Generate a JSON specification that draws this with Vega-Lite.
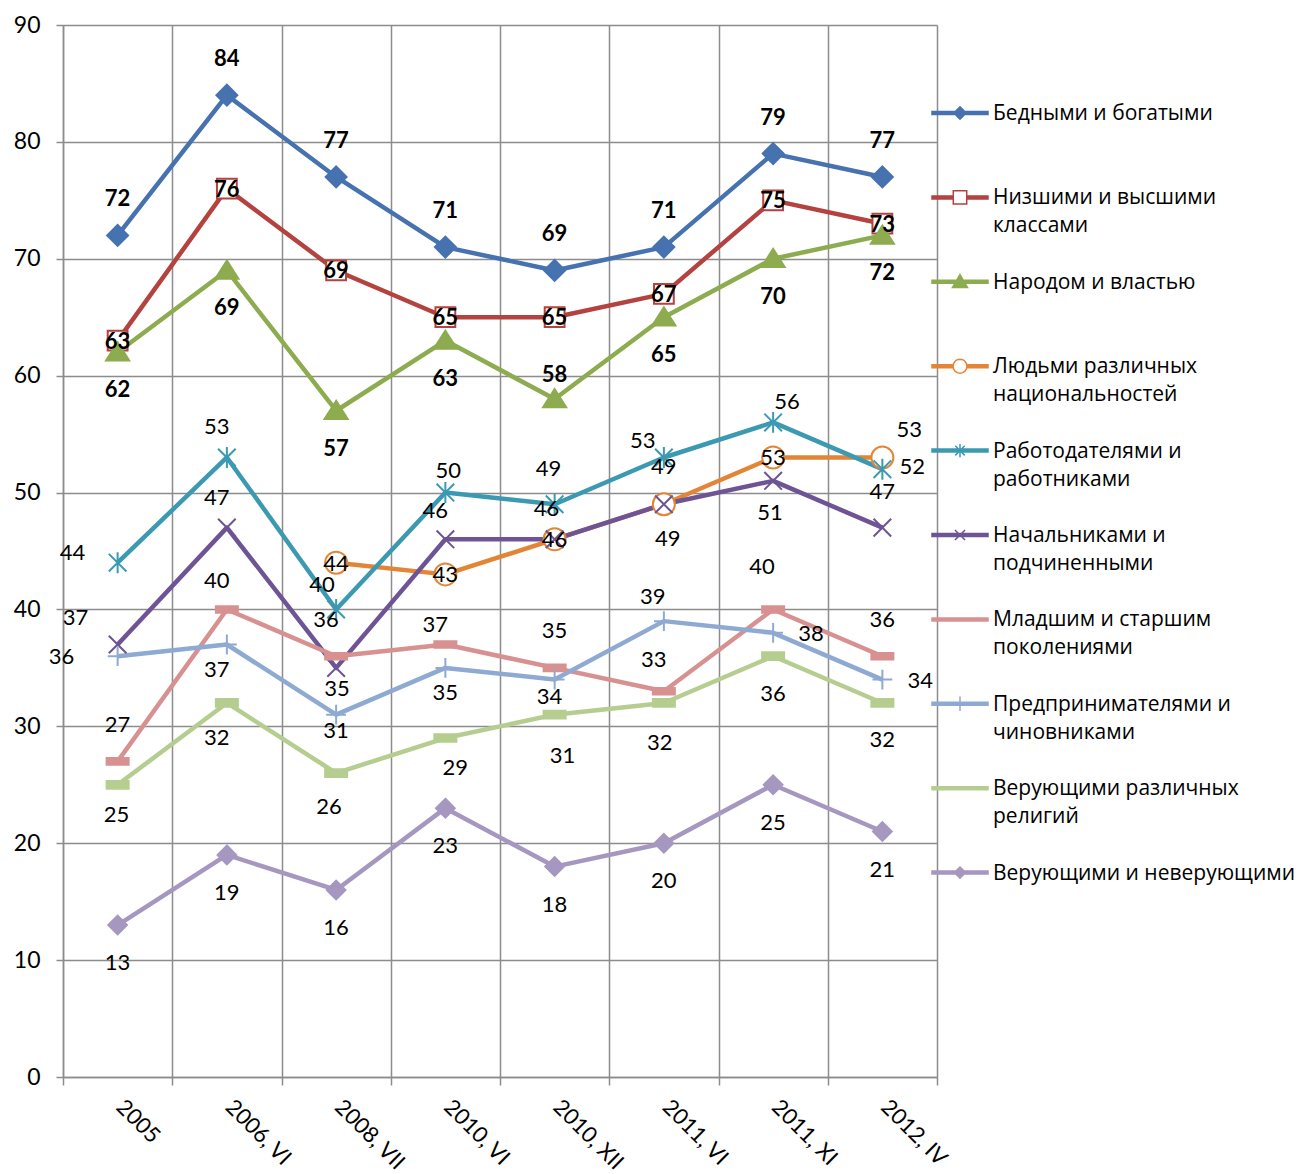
{
  "$schema": "https://vega.github.io/schema/vega-lite/v6.json",
  "width": 874,
  "height": 1052,
  "autosize": {"type": "none"},
  "padding": {"left": 63, "top": 25, "right": 363, "bottom": 97},
  "background": "white",
  "config": {"view": {"stroke": null}, "font": "Lato"},
  "data": {"values": [
    {"series": "Бедными и богатыми", "period": "2005", "value": 72},
    {"series": "Бедными и богатыми", "period": "2006, VI", "value": 84},
    {"series": "Бедными и богатыми", "period": "2008, VII", "value": 77},
    {"series": "Бедными и богатыми", "period": "2010, VI", "value": 71},
    {"series": "Бедными и богатыми", "period": "2010, XII", "value": 69},
    {"series": "Бедными и богатыми", "period": "2011, VI", "value": 71},
    {"series": "Бедными и богатыми", "period": "2011, XI", "value": 79},
    {"series": "Бедными и богатыми", "period": "2012, IV", "value": 77},
    {"series": "Низшими и высшими классами", "period": "2005", "value": 63},
    {"series": "Низшими и высшими классами", "period": "2006, VI", "value": 76},
    {"series": "Низшими и высшими классами", "period": "2008, VII", "value": 69},
    {"series": "Низшими и высшими классами", "period": "2010, VI", "value": 65},
    {"series": "Низшими и высшими классами", "period": "2010, XII", "value": 65},
    {"series": "Низшими и высшими классами", "period": "2011, VI", "value": 67},
    {"series": "Низшими и высшими классами", "period": "2011, XI", "value": 75},
    {"series": "Низшими и высшими классами", "period": "2012, IV", "value": 73},
    {"series": "Народом и властью", "period": "2005", "value": 62},
    {"series": "Народом и властью", "period": "2006, VI", "value": 69},
    {"series": "Народом и властью", "period": "2008, VII", "value": 57},
    {"series": "Народом и властью", "period": "2010, VI", "value": 63},
    {"series": "Народом и властью", "period": "2010, XII", "value": 58},
    {"series": "Народом и властью", "period": "2011, VI", "value": 65},
    {"series": "Народом и властью", "period": "2011, XI", "value": 70},
    {"series": "Народом и властью", "period": "2012, IV", "value": 72},
    {"series": "Людьми различных национальностей", "period": "2008, VII", "value": 44},
    {"series": "Людьми различных национальностей", "period": "2010, VI", "value": 43},
    {"series": "Людьми различных национальностей", "period": "2010, XII", "value": 46},
    {"series": "Людьми различных национальностей", "period": "2011, VI", "value": 49},
    {"series": "Людьми различных национальностей", "period": "2011, XI", "value": 53},
    {"series": "Людьми различных национальностей", "period": "2012, IV", "value": 53},
    {"series": "Работодателями и работниками", "period": "2005", "value": 44},
    {"series": "Работодателями и работниками", "period": "2006, VI", "value": 53},
    {"series": "Работодателями и работниками", "period": "2008, VII", "value": 40},
    {"series": "Работодателями и работниками", "period": "2010, VI", "value": 50},
    {"series": "Работодателями и работниками", "period": "2010, XII", "value": 49},
    {"series": "Работодателями и работниками", "period": "2011, VI", "value": 53},
    {"series": "Работодателями и работниками", "period": "2011, XI", "value": 56},
    {"series": "Работодателями и работниками", "period": "2012, IV", "value": 52},
    {"series": "Начальниками и подчиненными", "period": "2005", "value": 37},
    {"series": "Начальниками и подчиненными", "period": "2006, VI", "value": 47},
    {"series": "Начальниками и подчиненными", "period": "2008, VII", "value": 35},
    {"series": "Начальниками и подчиненными", "period": "2010, VI", "value": 46},
    {"series": "Начальниками и подчиненными", "period": "2010, XII", "value": 46},
    {"series": "Начальниками и подчиненными", "period": "2011, VI", "value": 49},
    {"series": "Начальниками и подчиненными", "period": "2011, XI", "value": 51},
    {"series": "Начальниками и подчиненными", "period": "2012, IV", "value": 47},
    {"series": "Младшим и старшим поколениями", "period": "2005", "value": 27},
    {"series": "Младшим и старшим поколениями", "period": "2006, VI", "value": 40},
    {"series": "Младшим и старшим поколениями", "period": "2008, VII", "value": 36},
    {"series": "Младшим и старшим поколениями", "period": "2010, VI", "value": 37},
    {"series": "Младшим и старшим поколениями", "period": "2010, XII", "value": 35},
    {"series": "Младшим и старшим поколениями", "period": "2011, VI", "value": 33},
    {"series": "Младшим и старшим поколениями", "period": "2011, XI", "value": 40},
    {"series": "Младшим и старшим поколениями", "period": "2012, IV", "value": 36},
    {"series": "Предпринимателями и чиновниками", "period": "2005", "value": 36},
    {"series": "Предпринимателями и чиновниками", "period": "2006, VI", "value": 37},
    {"series": "Предпринимателями и чиновниками", "period": "2008, VII", "value": 31},
    {"series": "Предпринимателями и чиновниками", "period": "2010, VI", "value": 35},
    {"series": "Предпринимателями и чиновниками", "period": "2010, XII", "value": 34},
    {"series": "Предпринимателями и чиновниками", "period": "2011, VI", "value": 39},
    {"series": "Предпринимателями и чиновниками", "period": "2011, XI", "value": 38},
    {"series": "Предпринимателями и чиновниками", "period": "2012, IV", "value": 34},
    {"series": "Верующими различных религий", "period": "2005", "value": 25},
    {"series": "Верующими различных религий", "period": "2006, VI", "value": 32},
    {"series": "Верующими различных религий", "period": "2008, VII", "value": 26},
    {"series": "Верующими различных религий", "period": "2010, VI", "value": 29},
    {"series": "Верующими различных религий", "period": "2010, XII", "value": 31},
    {"series": "Верующими различных религий", "period": "2011, VI", "value": 32},
    {"series": "Верующими различных религий", "period": "2011, XI", "value": 36},
    {"series": "Верующими различных религий", "period": "2012, IV", "value": 32},
    {"series": "Верующими и неверующими", "period": "2005", "value": 13},
    {"series": "Верующими и неверующими", "period": "2006, VI", "value": 19},
    {"series": "Верующими и неверующими", "period": "2008, VII", "value": 16},
    {"series": "Верующими и неверующими", "period": "2010, VI", "value": 23},
    {"series": "Верующими и неверующими", "period": "2010, XII", "value": 18},
    {"series": "Верующими и неверующими", "period": "2011, VI", "value": 20},
    {"series": "Верующими и неверующими", "period": "2011, XI", "value": 25},
    {"series": "Верующими и неверующими", "period": "2012, IV", "value": 21}
  ]},
  "encoding": {
    "x": {
      "field": "period", "type": "nominal",
      "scale": {"type": "band", "domain": ["2005", "2006, VI", "2008, VII", "2010, VI", "2010, XII", "2011, VI", "2011, XI", "2012, IV"], "paddingInner": 0, "paddingOuter": 0},
      "axis": {
        "title": null, "tickBand": "extent", "grid": true,
        "gridColor": "#8c8c8c", "gridWidth": 1.5,
        "domainColor": "#8c8c8c", "domainWidth": 1.5,
        "tickColor": "#8c8c8c", "tickWidth": 1.5, "tickSize": 8,
        "labelAngle": 45, "labelAlign": "left", "labelBaseline": "top", "labelPadding": 11, "labelOffset": 9,
        "labelFont": "Lato", "labelFontSize": 22, "labelColor": "#000", "labelOverlap": false, "labelLimit": 300
      }
    },
    "y": {
      "field": "value", "type": "quantitative",
      "scale": {"domain": [0, 90], "nice": false, "zero": true},
      "axis": {
        "title": null, "values": [0, 10, 20, 30, 40, 50, 60, 70, 80, 90], "grid": true,
        "gridColor": "#8c8c8c", "gridWidth": 1.5,
        "domainColor": "#8c8c8c", "domainWidth": 1.5,
        "tickColor": "#8c8c8c", "tickWidth": 1.5, "tickSize": 7,
        "labelPadding": 16, "labelFont": "Lato", "labelFontSize": 23, "labelColor": "#000"
      }
    }
  },
  "layer": [
    {
      "mark": {"type": "line", "strokeWidth": 4.5, "strokeJoin": "round"},
      "encoding": {
        "color": {
          "field": "series", "type": "nominal",
          "scale": {
            "domain": ["Бедными и богатыми", "Низшими и высшими классами", "Народом и властью", "Людьми различных национальностей", "Работодателями и работниками", "Начальниками и подчиненными", "Младшим и старшим поколениями", "Предпринимателями и чиновниками", "Верующими различных религий", "Верующими и неверующими"],
            "range": ["#4672B0", "#B4423F", "#8DAB4F", "#E38536", "#3B9AB2", "#6E5495", "#D89191", "#8EAAD3", "#B5CE8F", "#A697C0"]
          },
          "legend": {
            "orient": "none", "legendX": 868, "legendY": 59, "title": null, "padding": 0,
            "symbolType": "stroke", "symbolSize": 3136, "symbolStrokeWidth": 1.5,
            "labelFont": "Open Sans", "labelFontSize": 21, "labelColor": "#000", "labelLimit": 400,
            "labelOffset": 4, "labelBaseline": "top", "rowPadding": 16.4,
            "labelExpr": "length(datum.label) > 24 ? [substring(datum.label, 0, lastindexof(datum.label, ' ')), substring(datum.label, lastindexof(datum.label, ' ') + 1)] : [datum.label, ' ']",
            "encode": {
              "symbols": {"update": {
                "shape": {"signal": "['M-1,-0.054L1,-0.054L1,0.054L-1,0.054ZM0,-0.22L0.22,0L0,0.22L-0.22,0Z', 'M-1,-0.054L-0.24,-0.054L-0.24,0.054L-1,0.054ZM0.24,-0.054L1,-0.054L1,0.054L0.24,0.054ZM-0.24,-0.24L0.24,-0.24L0.24,0.24L-0.24,0.24ZM-0.24,-0.24L-0.24,0.24L0.24,0.24L0.24,-0.24Z', 'M-1,-0.054L1,-0.054L1,0.054L-1,0.054ZM0,-0.26L0.27,0.2L-0.27,0.2Z', 'M-1,-0.054L-0.25,-0.054L-0.25,0.054L-1,0.054ZM0.25,-0.054L1,-0.054L1,0.054L0.25,0.054ZM0.25,0L0.231,0.096L0.177,0.177L0.096,0.231L0,0.25L-0.096,0.231L-0.177,0.177L-0.231,0.096L-0.25,0L-0.231,-0.096L-0.177,-0.177L-0.096,-0.231L0,-0.25L0.096,-0.231L0.177,-0.177L0.231,-0.096ZM0.25,0L0.231,-0.096L0.177,-0.177L0.096,-0.231L0,-0.25L-0.096,-0.231L-0.177,-0.177L-0.231,-0.096L-0.25,0L-0.231,0.096L-0.177,0.177L-0.096,0.231L0,0.25L0.096,0.231L0.177,0.177L0.231,0.096Z', 'M-1,-0.054L1,-0.054L1,0.054L-1,0.054ZM-0.17,-0.17L0.17,0.17M-0.17,0.17L0.17,-0.17M0,-0.24L0,0.24', 'M-1,-0.054L1,-0.054L1,0.054L-1,0.054ZM-0.18,-0.18L0.18,0.18M-0.18,0.18L0.18,-0.18', 'M-1,-0.054L1,-0.054L1,0.054L-1,0.054Z', 'M-1,-0.054L1,-0.054L1,0.054L-1,0.054ZM0,-0.26L0,0.26', 'M-1,-0.054L1,-0.054L1,0.054L-1,0.054Z', 'M-1,-0.054L1,-0.054L1,0.054L-1,0.054ZM0,-0.2L0.2,0L0,0.2L-0.2,0Z'][datum.index]"},
                "fill": {"scale": "color", "field": "value"},
                "strokeWidth": {"value": 1.5},
                "opacity": {"value": 1}
              }},
              "labels": {"update": {"dy": {"value": -10}, "lineHeight": {"value": 28}}}
            }
          }
        }
      }
    },
    {
      "mark": {"type": "point", "filled": true, "opacity": 1, "size": 484, "strokeWidth": 2},
      "encoding": {
        "shape": {
          "field": "series", "type": "nominal", "legend": null,
          "scale": {
            "domain": ["Верующими и неверующими", "Верующими различных религий", "Предпринимателями и чиновниками", "Младшим и старшим поколениями", "Начальниками и подчиненными", "Работодателями и работниками", "Людьми различных национальностей", "Народом и властью", "Низшими и высшими классами", "Бедными и богатыми"],
            "range": ["M0,-0.85L0.85,0L0,0.85L-0.85,0Z", "M-1,-0.35L1,-0.35L1,0.35L-1,0.35Z", "M-0.9,0L0.9,0M0,-0.9L0,0.9", "M-1,-0.3L1,-0.3L1,0.3L-1,0.3Z", "M-0.8,-0.8L0.8,0.8M-0.8,0.8L0.8,-0.8", "M-0.8,-0.8L0.8,0.8M-0.8,0.8L0.8,-0.8M0,-0.95L0,0.95", "circle", "M0,-0.9L1.05,0.75L-1.05,0.75Z", "M-0.9,-0.9L0.9,-0.9L0.9,0.9L-0.9,0.9Z", "M0,-0.95L0.95,0L0,0.95L-0.95,0Z"]
          }
        },
        "fill": {
          "field": "series", "type": "nominal", "legend": null,
          "scale": {
            "domain": ["Верующими и неверующими", "Верующими различных религий", "Предпринимателями и чиновниками", "Младшим и старшим поколениями", "Начальниками и подчиненными", "Работодателями и работниками", "Людьми различных национальностей", "Народом и властью", "Низшими и высшими классами", "Бедными и богатыми"],
            "range": ["#A697C0", "#B5CE8F", "#8EAAD3", "#D89191", "#6E5495", "#3B9AB2", "#FFFFFF", "#8DAB4F", "#FFFFFF", "#4672B0"]
          }
        },
        "stroke": {
          "field": "series", "type": "nominal", "legend": null,
          "scale": {
            "domain": ["Верующими и неверующими", "Верующими различных религий", "Предпринимателями и чиновниками", "Младшим и старшим поколениями", "Начальниками и подчиненными", "Работодателями и работниками", "Людьми различных национальностей", "Народом и властью", "Низшими и высшими классами", "Бедными и богатыми"],
            "range": ["#A697C0", "#B5CE8F", "#8EAAD3", "#D89191", "#6E5495", "#3B9AB2", "#E38536", "#8DAB4F", "#B4423F", "#4672B0"]
          }
        }
      }
    },
    {
      "transform": [{"filter": {"field": "series", "equal": "Бедными и богатыми"}}],
      "mark": {"type": "text", "font": "Lato", "fontSize": 22, "fontWeight": "bold", "color": "#000", "dy": -36},
      "encoding": {"text": {"field": "value", "type": "quantitative"}}
    },
    {
      "transform": [{"filter": {"field": "series", "equal": "Низшими и высшими классами"}}],
      "mark": {"type": "text", "font": "Lato", "fontSize": 22, "fontWeight": "bold", "color": "#000", "dy": 1},
      "encoding": {"text": {"field": "value", "type": "quantitative"}}
    },
    {
      "transform": [{"filter": {"field": "series", "equal": "Народом и властью"}}],
      "mark": {"type": "text", "font": "Lato", "fontSize": 22, "fontWeight": "bold", "color": "#000", "dy": {"expr": "datum.period == '2010, XII' ? -24 : 38"}},
      "encoding": {"text": {"field": "value", "type": "quantitative"}}
    },
    {
      "transform": [{"filter": {"field": "series", "equal": "Людьми различных национальностей"}}],
      "mark": {"type": "text", "font": "Lato", "fontSize": 22, "color": "#000",
        "dx": {"expr": "datum.period == '2012, IV' ? 27 : 0"},
        "dy": {"expr": "datum.period == '2011, VI' ? -37 : datum.period == '2012, IV' ? -27 : 1"}},
      "encoding": {"text": {"field": "value", "type": "quantitative"}}
    },
    {
      "transform": [{"filter": {"field": "series", "equal": "Работодателями и работниками"}}],
      "mark": {"type": "text", "font": "Lato", "fontSize": 22, "color": "#000",
        "dx": {"expr": "[-45, -10, -14, 3, -6, -21, 14, 30][indexof(['2005', '2006, VI', '2008, VII', '2010, VI', '2010, XII', '2011, VI', '2011, XI', '2012, IV'], datum.period)]"},
        "dy": {"expr": "[-10, -30, -24, -22, -35, -16, -20, -2][indexof(['2005', '2006, VI', '2008, VII', '2010, VI', '2010, XII', '2011, VI', '2011, XI', '2012, IV'], datum.period)]"}},
      "encoding": {"text": {"field": "value", "type": "quantitative"}}
    },
    {
      "transform": [{"filter": {"field": "series", "equal": "Начальниками и подчиненными"}}],
      "mark": {"type": "text", "font": "Lato", "fontSize": 22, "color": "#000",
        "dx": {"expr": "[-42, -10, 1, -10, -8, 4, -3, 0][indexof(['2005', '2006, VI', '2008, VII', '2010, VI', '2010, XII', '2011, VI', '2011, XI', '2012, IV'], datum.period)]"},
        "dy": {"expr": "[-27, -30, 21, -28, -30, 35, 32, -36][indexof(['2005', '2006, VI', '2008, VII', '2010, VI', '2010, XII', '2011, VI', '2011, XI', '2012, IV'], datum.period)]"}},
      "encoding": {"text": {"field": "value", "type": "quantitative"}}
    },
    {
      "transform": [{"filter": {"field": "series", "equal": "Младшим и старшим поколениями"}}],
      "mark": {"type": "text", "font": "Lato", "fontSize": 22, "color": "#000",
        "dx": {"expr": "[0, -10, -10, -10, 0, -10, -11, 0][indexof(['2005', '2006, VI', '2008, VII', '2010, VI', '2010, XII', '2011, VI', '2011, XI', '2012, IV'], datum.period)]"},
        "dy": {"expr": "[-36, -28, -36, -20, -37, -31, -42, -36][indexof(['2005', '2006, VI', '2008, VII', '2010, VI', '2010, XII', '2011, VI', '2011, XI', '2012, IV'], datum.period)]"}},
      "encoding": {"text": {"field": "value", "type": "quantitative"}}
    },
    {
      "transform": [{"filter": {"field": "series", "equal": "Предпринимателями и чиновниками"}}],
      "mark": {"type": "text", "font": "Lato", "fontSize": 22, "color": "#000",
        "dx": {"expr": "[-56, -10, 0, 0, -5, -11, 38, 38][indexof(['2005', '2006, VI', '2008, VII', '2010, VI', '2010, XII', '2011, VI', '2011, XI', '2012, IV'], datum.period)]"},
        "dy": {"expr": "[1, 25, 16, 25, 17, -24, 1, 1][indexof(['2005', '2006, VI', '2008, VII', '2010, VI', '2010, XII', '2011, VI', '2011, XI', '2012, IV'], datum.period)]"}},
      "encoding": {"text": {"field": "value", "type": "quantitative"}}
    },
    {
      "transform": [{"filter": {"field": "series", "equal": "Верующими различных религий"}}],
      "mark": {"type": "text", "font": "Lato", "fontSize": 22, "color": "#000",
        "dx": {"expr": "[-1, -10, -7, 10, 8, -4, 0, 0][indexof(['2005', '2006, VI', '2008, VII', '2010, VI', '2010, XII', '2011, VI', '2011, XI', '2012, IV'], datum.period)]"},
        "dy": {"expr": "[30, 35, 34, 30, 41, 40, 38, 37][indexof(['2005', '2006, VI', '2008, VII', '2010, VI', '2010, XII', '2011, VI', '2011, XI', '2012, IV'], datum.period)]"}},
      "encoding": {"text": {"field": "value", "type": "quantitative"}}
    },
    {
      "transform": [{"filter": {"field": "series", "equal": "Верующими и неверующими"}}],
      "mark": {"type": "text", "font": "Lato", "fontSize": 22, "color": "#000", "dy": 38},
      "encoding": {"text": {"field": "value", "type": "quantitative"}}
    }
  ]
}
